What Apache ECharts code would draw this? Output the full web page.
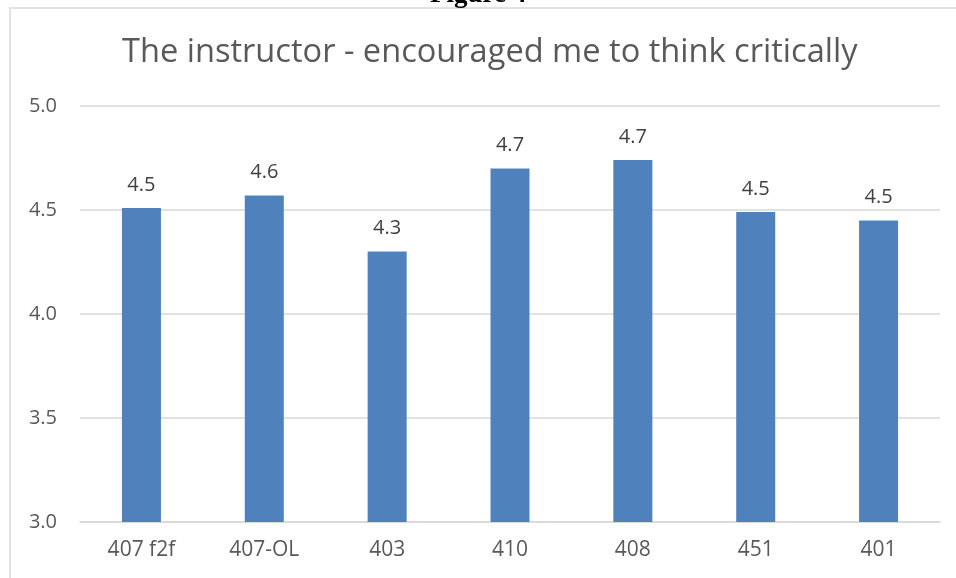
<!DOCTYPE html>
<html>
<head>
<meta charset="utf-8">
<script src="https://cdn.jsdelivr.net/npm/echarts@6/dist/echarts.min.js"></script>
<style>
  html, body { margin: 0; padding: 0; background: #fff; }
  #chart { width: 956px; height: 578px; }
</style>
</head>
<body>
<div id="chart"></div>
<script>
// data
var categories = ["407 f2f", "407-OL", "403", "410", "408", "451", "401"];
var scores = [4.51, 4.57, 4.30, 4.70, 4.74, 4.49, 4.45];
var yTicks = [3.0, 3.5, 4.0, 4.5, 5.0];

var grey = "#595959";
var chart = echarts.init(document.getElementById("chart"));

var option = {
  animation: false,
  textStyle: { fontFamily: "Open Sans" },
  title: {
    text: "The instructor - encouraged me to think critically",
    left: 117,
    top: 31,
    textStyle: {
      color: grey,
      fontSize: 32.6,
      fontWeight: "normal",
      fontFamily: "Open Sans"
    }
  },
  graphic: [
    {
      // chart border (only top and left visible in the clipped picture)
      type: "rect",
      shape: { x: 10, y: 8, width: 980, height: 620 },
      style: { fill: null, stroke: "#d9d9d9", lineWidth: 1.5 },
      silent: true
    },
    {
      // caption above the chart, cut off at the top of the picture
      type: "text",
      left: 430,
      top: -18,
      style: {
        text: "Figure 4",
        fill: "#000",
        font: "bold 27px 'Liberation Serif'"
      }
    }
  ],
  grid: { left: 80, right: 16, top: 106, bottom: 56 },
  xAxis: {
    type: "category",
    data: categories,
    axisTick: { show: false },
    axisLine: { lineStyle: { color: "#d9d9d9", width: 1.5 } },
    axisLabel: { color: grey, fontSize: 21, margin: 18 }
  },
  yAxis: {
    type: "value",
    min: yTicks[0],
    max: yTicks[yTicks.length - 1],
    interval: 0.5,
    axisLine: { show: false },
    axisTick: { show: false },
    axisLabel: {
      color: grey,
      fontSize: 20,
      margin: 23,
      formatter: function (v) { return v.toFixed(1); }
    },
    splitLine: { lineStyle: { color: "#d9d9d9", width: 1.5 } }
  },
  series: [
    {
      type: "bar",
      data: scores,
      barWidth: 39,
      itemStyle: { color: "#4f81bd" },
      label: {
        show: true,
        position: "top",
        distance: 13,
        color: "#404040",
        fontSize: 20,
        formatter: function (p) { return p.value.toFixed(1); }
      }
    }
  ]
};

chart.setOption(option);
</script>
</body>
</html>
